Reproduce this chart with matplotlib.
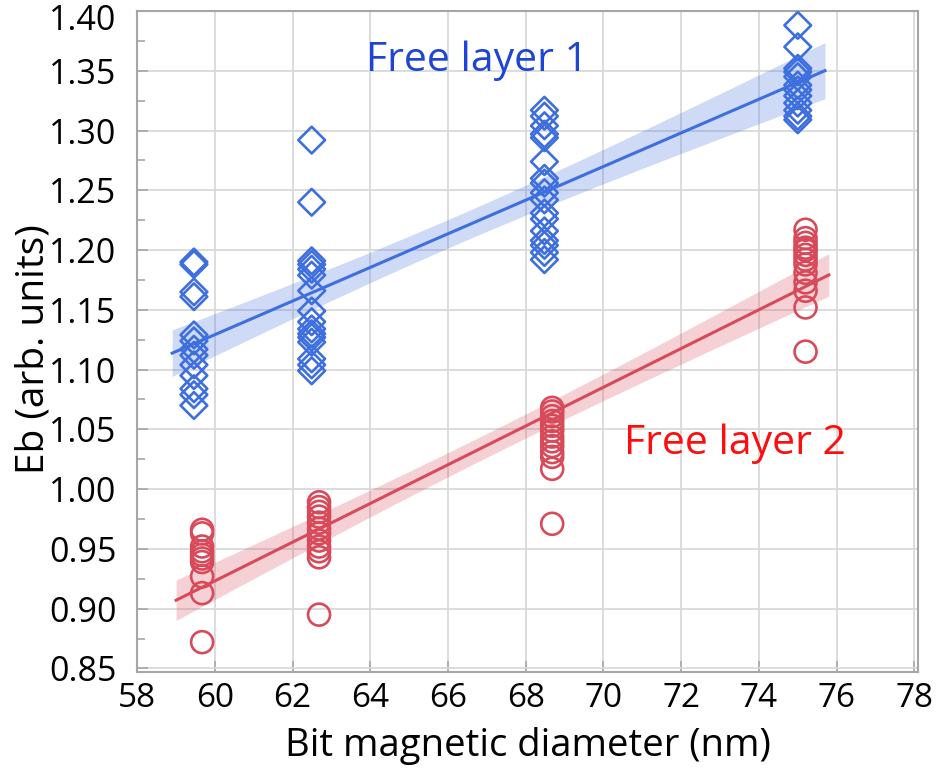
import numpy as np
import matplotlib
matplotlib.use('Agg')
from matplotlib import pyplot as plt
from matplotlib.ticker import MultipleLocator, FormatStrFormatter
from matplotlib.transforms import ScaledTranslation

# Free layer 1 (diamonds)
fl1_x = [59.46, 62.49, 68.48, 75.0]
fl1_y = [
    [1.190, 1.188, 1.165, 1.161, 1.129, 1.124, 1.117, 1.112, 1.104, 1.095, 1.084, 1.079, 1.070],
    [1.292, 1.240, 1.191, 1.188, 1.184, 1.179, 1.166, 1.149, 1.140, 1.134, 1.130, 1.127,
     1.123, 1.109, 1.104, 1.099],
    [1.317, 1.312, 1.304, 1.297, 1.294, 1.274, 1.260, 1.256, 1.248, 1.242, 1.231, 1.226,
     1.216, 1.208, 1.204, 1.198, 1.192],
    [1.388, 1.370, 1.352, 1.349, 1.345, 1.338, 1.334, 1.329, 1.323, 1.317, 1.312, 1.309],
]

# Free layer 2 (circles)
fl2_x = [59.67, 62.68, 68.68, 75.2]
fl2_y = [
    [0.966, 0.963, 0.952, 0.948, 0.945, 0.942, 0.939, 0.927, 0.913, 0.872],
    [0.989, 0.985, 0.981, 0.977, 0.972, 0.967, 0.963, 0.957, 0.952, 0.948, 0.943, 0.895],
    [1.068, 1.065, 1.061, 1.057, 1.053, 1.049, 1.044, 1.040, 1.036, 1.031, 1.027, 1.017, 0.971],
    [1.217, 1.210, 1.206, 1.202, 1.200, 1.196, 1.192, 1.188, 1.181, 1.173, 1.166, 1.152, 1.115],
]

blue = '#3d6fdf'
red = '#d84a5a'


def flatten(xs, ys):
    x = np.concatenate([[xv] * len(yv) for xv, yv in zip(xs, ys)])
    y = np.concatenate(ys)
    return x, y


def fit_band(x, y, grid):
    """Linear fit with 95% confidence band of the mean"""
    n = len(x)
    b, a = np.polyfit(x, y, 1)
    fit = a + b * grid
    resid = y - (a + b * x)
    s = np.sqrt(np.sum(resid ** 2) / (n - 2))
    xm = x.mean()
    se = s * np.sqrt(1 / n + (grid - xm) ** 2 / np.sum((x - xm) ** 2))
    return fit, 2.2 * se


plt.rcParams['font.family'] = ['Open Sans', 'DejaVu Sans']

fig = plt.figure(figsize=(9.36, 7.69), dpi=100)
ax = fig.add_axes([0.1466, 0.1261, 0.8344, 0.8596])

for xs, ys, color, marker, lo, hi in [
        (fl1_x, fl1_y, blue, 'D', 58.9, 75.7),
        (fl2_x, fl2_y, red, 'o', 59.0, 75.8)]:
    x, y = flatten(xs, ys)
    grid = np.linspace(lo, hi, 100)
    fit, ci = fit_band(x, y, grid)
    ax.fill_between(grid, fit - ci, fit + ci, color=color, alpha=0.25, lw=0, zorder=2)
    ax.plot(grid, fit, color=color, lw=2.2, zorder=3)
    size = 185 if marker == 'D' else 250
    ax.scatter(x, y, marker=marker, s=size, facecolors='none',
               edgecolors=color, linewidths=1.9, zorder=4)

ax.text(66.75, 1.358, 'Free layer 1', color='#1f45d4', fontsize=29.5,
        ha='center', va='center')
ax.text(73.38, 1.038, 'Free layer 2', color='#ff0d0d', fontsize=29.5,
        ha='center', va='center')

ax.set_xlim(58, 78.1)
ax.set_ylim(0.847, 1.40)
ax.xaxis.set_major_locator(MultipleLocator(2))
ax.yaxis.set_major_locator(MultipleLocator(0.05))
ax.yaxis.set_minor_locator(MultipleLocator(0.025))
ax.yaxis.set_major_formatter(FormatStrFormatter('%.2f'))
ax.grid(True, color='#d9d9d9', lw=1.3, zorder=0)
ax.set_axisbelow(True)
for sp in ax.spines.values():
    sp.set_color('#a6a6a6')
    sp.set_linewidth(1.5)
ax.tick_params(which='both', direction='in', color='#a6a6a6')
ax.tick_params(which='major', length=8, width=1.2)
ax.tick_params(which='minor', length=6, width=1.2)
ax.tick_params(axis='y', pad=15, labelsize=24.5)
ax.tick_params(axis='x', pad=7, labelsize=24)

ax.set_xlabel('Bit magnetic diameter (nm)', fontsize=27.5, labelpad=9)
ax.set_ylabel('Eb (arb. units)', fontsize=28)
ax.yaxis.set_label_coords(-0.108, 0.488)

# keep the top tick label inside the figure, as in the original
fig.canvas.draw()
top_tick = ax.yaxis.get_major_ticks()[-1]
for tick in ax.yaxis.get_major_ticks():
    if abs(tick.get_loc() - 1.40) < 1e-6:
        top_tick = tick
shift = ScaledTranslation(0, -0.06, fig.dpi_scale_trans)
top_tick.label1.set_transform(top_tick.label1.get_transform() + shift)

plt.savefig('out.png', dpi=100)
